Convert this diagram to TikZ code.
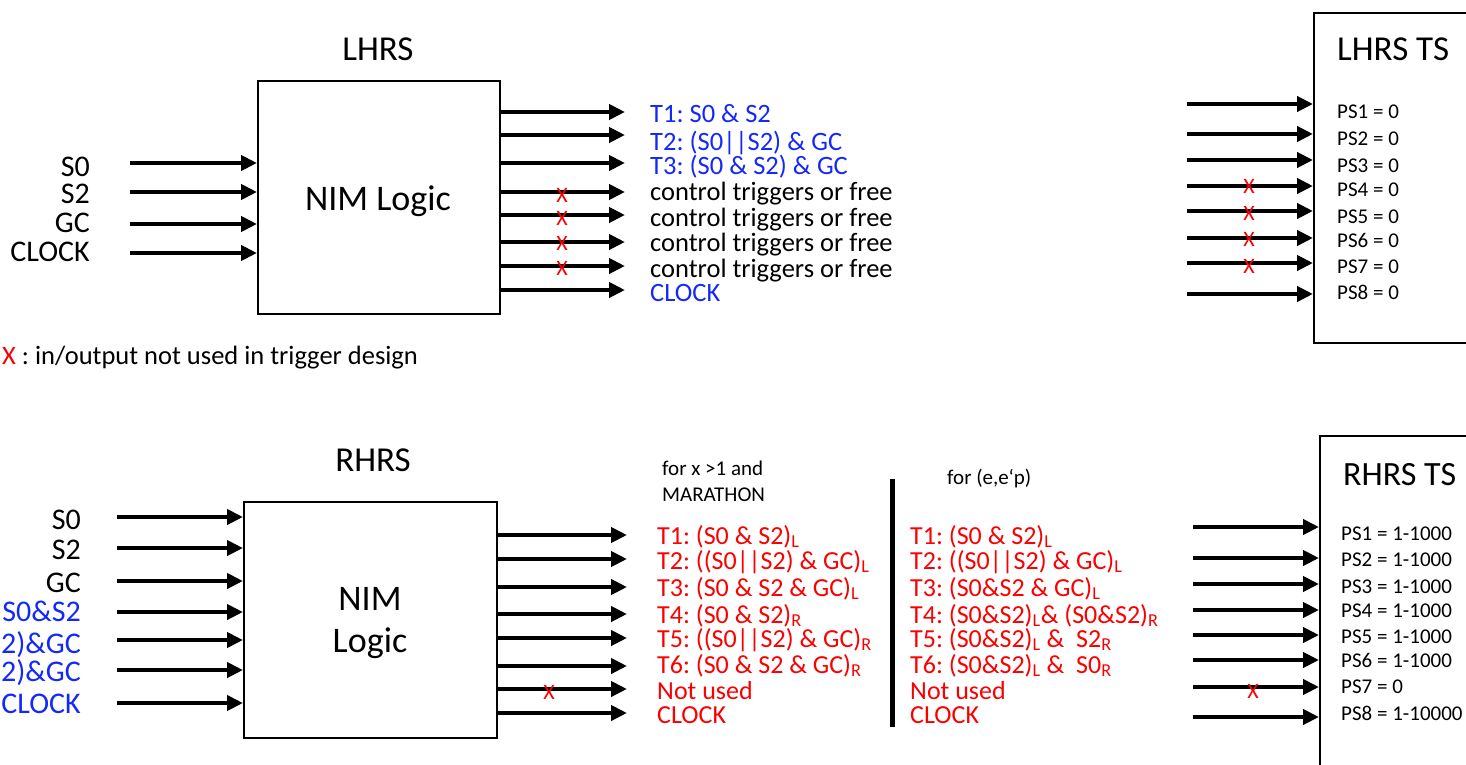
\documentclass[tikz,border=0pt]{standalone}
\usepackage{fontspec}
\setmainfont{Carlito}
\usetikzlibrary{arrows.meta,positioning,calc}
\definecolor{sigblue}{RGB}{20,40,250}
\definecolor{sigred}{RGB}{250,0,0}
\newcommand{\fsz}[1]{\fontsize{#1}{#1}\selectfont}
\frenchspacing

\begin{document}
\begin{tikzpicture}[
    x=1pt, y=-1pt,
    sig/.style={line width=4.6pt, -{Triangle[length=16pt,width=15pt]}},
    unit/.style={draw, line width=2pt, anchor=north west, inner sep=0pt},
    title/.style={font=\fsz{35}, anchor=base, inner sep=0pt},
    inlbl/.style={font=\fsz{30}, anchor=base east, inner sep=0pt},
    outlbl/.style={font=\fsz{26.5}, anchor=base west, inner sep=0pt},
    trglbl/.style={font=\fsz{26}, anchor=base west, inner sep=0pt, text=sigred},
    pslbl/.style={font=\fsz{21}, anchor=base west, inner sep=0pt},
    note/.style={font=\fsz{21}, anchor=base west, inner sep=0pt},
    unused/.style={font=\fsz{22}, text=sigred, inner sep=0pt}
]
\useasboundingbox (0,0) rectangle (1466,765);
\clip (0,0) rectangle (1466,765);

% LHRS logic
\node[unit, minimum width=242pt, minimum height=233pt] (lhrs) at (257,80) {};
\node[title] (lhrstitle) at (378,61) {LHRS};
\node[title, font=\fsz{36}] (lhrsnim) at (378,210) {NIM Logic};
\foreach \y/\b/\t [count=\i] in {163/176/S0, 192/203/S2, 224/232/GC, 253/261/CLOCK} {
  \coordinate (lin\i) at (130,\y);
  \draw[sig] (lin\i) -- (lin\i -| lhrs.west);
  \node[inlbl] (linl\i) at (90,\b) {\t};
}
\foreach \y/\b/\t [count=\i] in {
    112/123/{\color{sigblue}T1: S0 \& S2},
    135/150/{\color{sigblue}T2: (S0||S2) \& GC},
    163/174/{\color{sigblue}T3: (S0 \& S2) \& GC},
    192/200/{control triggers or free},
    215/226/{control triggers or free},
    242/251/{control triggers or free},
    266/277/{control triggers or free},
    290/301/{\color{sigblue}CLOCK}} {
  \coordinate (lout\i) at (625,\y);
  \draw[sig] (lout\i -| lhrs.east) -- (lout\i);
  \node[outlbl] (loutl\i) at (650,\b) {\t};
}
\foreach \y [count=\i] in {195,218,243,268}
  \node[unused] (lx\i) at (562,\y) {X};

\node[outlbl] (legend) at (2,364) {\textcolor{sigred}{X} : in/output not used in trigger design};

% LHRS trigger supervisor
\node[unit, minimum width=180pt, minimum height=330pt] (lts) at (1313,12) {};
\node[title, anchor=base west] (ltstitle) at (1337,61) {LHRS TS};
\foreach \y/\b [count=\i] in {104/119, 134/145, 160/172, 186/196, 211/223, 238/247, 263/273, 294/299} {
  \coordinate (ltin\i) at (1187,\y);
  \draw[sig] (ltin\i) -- (ltin\i -| lts.west);
  \node[pslbl] (ltl\i) at (1337,\b) {PS\i{} = 0};
}
\foreach \y [count=\i] in {186,213,239,266}
  \node[unused] (ltx\i) at (1249,\y) {X};

% RHRS logic
\node[unit, minimum width=253pt, minimum height=236pt] (rhrs) at (243,501) {};
\node[title] (rhrstitle) at (373,471) {RHRS};
\node[title, font=\fsz{36}] (rhrsnim) at (370,610) {NIM};
\node[title, font=\fsz{36}] (rhrslogic) at (370,652) {Logic};
\foreach \y/\b/\t [count=\i] in {
    517/529/S0, 548/559/S2, 581/592/GC,
    612/621/{\color{sigblue}S0\&S2},
    640/653/{\color{sigblue}2)\&GC},
    670/681/{\color{sigblue}2)\&GC},
    703/713/{\color{sigblue}CLOCK}} {
  \coordinate (rin\i) at (117,\y);
  \draw[sig] (rin\i) -- (rin\i -| rhrs.west);
  \node[inlbl] (rinl\i) at (81,\b) {\t};
}
\foreach \y/\b/\t/\u [count=\i] in {
    535/544/{T1: (S0 \& S2)\textsubscript{L}}/{T1: (S0 \& S2)\textsubscript{L}},
    559/569/{T2: ((S0||S2) \& GC)\textsubscript{L}}/{T2: ((S0||S2) \& GC)\textsubscript{L}},
    587/596/{T3: (S0 \& S2 \& GC)\textsubscript{L}}/{T3: (S0\&S2 \& GC)\textsubscript{L}},
    614/623/{T4: (S0 \& S2)\textsubscript{R}}/{T4: (S0\&S2)\textsubscript{L}\& (S0\&S2)\textsubscript{R}},
    638/647/{T5: ((S0||S2) \& GC)\textsubscript{R}}/{T5: (S0\&S2)\textsubscript{L} \&\ \ S2\textsubscript{R}},
    666/673/{T6: (S0 \& S2 \& GC)\textsubscript{R}}/{T6: (S0\&S2)\textsubscript{L} \&\ \ S0\textsubscript{R}},
    689/699/{Not used}/{Not used},
    713/723/{CLOCK}/{CLOCK}} {
  \coordinate (rout\i) at (627,\y);
  \draw[sig] (rout\i -| rhrs.east) -- (rout\i);
  \node[trglbl] (routl\i) at (657,\b) {\t};
  \node[trglbl] (routm\i) at (910,\b) {\u};
}
\node[unused] (rx1) at (549,692) {X};
\node[note] (marathon1) at (662,475) {for x >1 and};
\node[note] (marathon2) at (662,501) {MARATHON};
\node[note] (eep) at (947,484) {for (e,e‘p)};
\coordinate (divtop) at (892,479);
\coordinate (divbot) at (892,727);
\draw[line width=5pt] (divtop) -- (divbot);

% RHRS trigger supervisor
\node[unit, minimum width=180pt, minimum height=350pt] (rts) at (1319,435) {};
\node[title, font=\fsz{34}, anchor=base west] (rtstitle) at (1343,485) {RHRS TS};
\foreach \y/\b/\t [count=\i] in {527/540/1-1000, 558/566/1-1000, 584/593/1-1000, 610/617/1-1000,
    635/643/1-1000, 660/667/1-1000, 687/693/0, 717/720/1-10000} {
  \coordinate (rtin\i) at (1193,\y);
  \draw[sig] (rtin\i) -- (rtin\i -| rts.west);
  \node[pslbl] (rtl\i) at (1341,\b) {PS\i{} = \t};
}
\node[unused] (rtx1) at (1253,691) {X};
\end{tikzpicture}
\end{document}
